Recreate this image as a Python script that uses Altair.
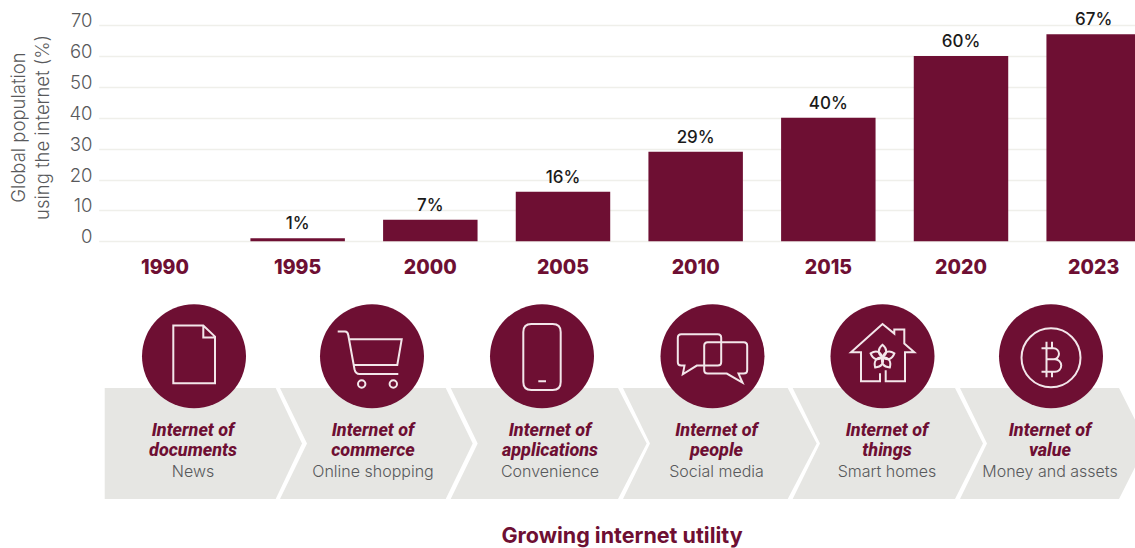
import altair as alt
import pandas as pd

# Chart values
YEARS = ["1990", "1995", "2000", "2005", "2010", "2015", "2020", "2023"]
SHARE = [None, 1, 7, 16, 29, 40, 60, 67]
STAGE_HEAD = ["documents", "commerce", "applications", "people", "things", "value"]
STAGE_SUB = ["News", "Online shopping", "Convenience", "Social media", "Smart homes", "Money and assets"]
Y_TICKS = [0, 10, 20, 30, 40, 50, 60, 70]

# Layout, in page pixels
PAD_L, PAD_T = 100, 25
PLOT_W, PLOT_H = 1035, 216.3
CIRCLE_X = [194, 372, 542, 712.5, 882.5, 1051]
CIRCLE_Y = 356.3
TEXT_X = [193, 373, 550, 716.5, 887, 1050]
CHEVRONS = [
    "M104.7,388 H275.7 L302,443.5 L275.7,499 H104.7 Z",
    "M280,388 H445.7 L472.7,443.5 L445.7,499 H280 L307,443.5 Z",
    "M450.7,388 H618 L646.7,443.5 L618,499 H450.7 L477.7,443.5 Z",
    "M623,388 H787.7 L816.7,443.5 L787.7,499 H623 L650,443.5 Z",
    "M792.7,388 H955 L983,443.5 L955,499 H792.7 L820,443.5 Z",
    "M960,388 H1119 L1147,443.5 L1119,499 H960 L987,443.5 Z",
]

# Line icons, drawn around each circle's centre
ICONS = [
    "M-20.7,-30.7 H9.3 L21,-19.7 V27 H-20.7 Z M9.3,-30.7 V-18.7 H21",
    "M-34.3,-24.7 H-27 Q-24.2,-24.7 -23.7,-21 L-17.5,13 Q-16.5,17.7 -12.5,17.7 H26.3 "
    "M-22,-17 H29.7 L25.3,8.7 H-18 "
    "M-14,27.7 a3.7,3.7 0 1 0 7.4,0 a3.7,3.7 0 1 0 -7.4,0 "
    "M17.6,27.7 a3.7,3.7 0 1 0 7.4,0 a3.7,3.7 0 1 0 -7.4,0",
    "M-10.7,-32.3 H10.7 Q18.7,-32.3 18.7,-24.3 V25.7 Q18.7,33.7 10.7,33.7 H-10.7 "
    "Q-18.7,33.7 -18.7,25.7 V-24.3 Q-18.7,-32.3 -10.7,-32.3 Z M-3.7,25 H4",
    "M-31.2,-22 H5.2 Q8.7,-22 8.7,-18.5 V5.8 Q8.7,9.3 5.2,9.3 H-15.7 L-29.7,18 L-28,9.3 H-31.2 "
    "Q-34.7,9.3 -34.7,5.8 V-18.5 Q-34.7,-22 -31.2,-22 Z "
    "M-4.8,-14 H31.2 Q34.7,-14 34.7,-10.5 V13.8 Q34.7,17.3 31.2,17.3 H26 L30,26.3 L14.3,17.3 H-4.8 "
    "Q-8.3,17.3 -8.3,13.8 V-10.5 Q-8.3,-14 -4.8,-14 Z",
    "M-2.5,17 V25 H-21.5 V-4 H-31.5 L0,-32.3 L11.8,-22.7 V-26.7 H21.8 V-12.7 L31.8,-4 H22.5 V25 H3.2 V14",
    "M-29.5,1.5 a29.5,29.5 0 1 0 59,0 a29.5,29.5 0 1 0 -59,0 "
    "M-9.5,-8 H2.5 A5.5,5.5 0 0 1 2.5,3 H-4.5 M-4.5,-14.5 V21 M-4.5,3 H4 A6.25,6.25 0 0 1 4,15.5 H-9.5 "
    "M1,-8 V-14.5 M1,15.5 V21",
]
PETAL = "M0,0 C-5,-3.5 -5,-8.5 0,-12.5 C5,-8.5 5,-3.5 0,0 Z"
PETAL_ANGLES = [0, 72, 144, 216, 288]

# Styles
WINE = "#6E0F33"
PANEL = "#E6E6E3"
GRID = "#EFEFEA"
INK = "#58595B"
LINE = "#F3E6EA"
FONT = "Inter"
HEAD_FONT = "Roboto"

df = pd.DataFrame({"year": YEARS, "share": SHARE})
df["label"] = [f"{v}%" if v is not None else "" for v in SHARE]
one = alt.Data(values=[{"row": 0}])


def px(x):
    return x - PAD_L


def py(y):
    return y - PAD_T


def shape(path, x, y, **style):
    """A custom path symbol; size 4 makes one path unit one pixel."""
    return alt.Chart(one).mark_point(shape=path, size=4, opacity=1, **style).encode(
        x=alt.value(px(x)), y=alt.value(py(y))
    )


def caption(text, x, y, **style):
    return alt.Chart(one).mark_text(align="center", baseline="middle", **style).encode(
        x=alt.value(px(x)), y=alt.value(py(y)), text=alt.value(text)
    )


x_scale = alt.Scale(domain=YEARS, range=[-1.35, 1060], paddingInner=0.288, paddingOuter=0.144)
y_scale = alt.Scale(domain=[0, 70], nice=False)

x_axis = alt.Axis(
    title=None, labelAngle=0, ticks=False, domain=False, labelPadding=17,
    labelFont=FONT, labelFontSize=19.5, labelFontWeight=800, labelColor=WINE,
)
y_axis = alt.Axis(
    values=Y_TICKS, grid=True, gridColor=GRID, gridWidth=1.5, ticks=False, domain=False,
    labelFont=FONT, labelFontSize=18.5, labelFontWeight=300, labelColor=INK, labelPadding=8,
    labelOverlap=False, labelOffset=-4.5, labelBound=False, labelFlush=False,
    title=["Global population", "using the internet (%)"],
    titleFont=FONT, titleFontSize=18.5, titleFontWeight=300, titleColor=INK,
    titleAngle=-90, titleX=-82, titleY=102, titleLineHeight=24,
    titleAlign="center", titleBaseline="middle",
)

bars = alt.Chart(df).mark_bar(color=WINE).encode(
    x=alt.X("year:N", scale=x_scale, sort=None, axis=x_axis),
    y=alt.Y("share:Q", scale=y_scale, axis=y_axis),
)

values = alt.Chart(df).transform_filter("datum.share != null").mark_text(
    baseline="alphabetic", dy=-9, font=FONT, fontSize=17, fontWeight=500, color="#1A1A1A"
).encode(
    x=alt.X("year:N", scale=x_scale, sort=None, axis=x_axis),
    y=alt.Y("share:Q", scale=y_scale, axis=y_axis),
    text="label:N",
)

layers = [bars, values]

layers += [shape(p, 0, 0, filled=True, fill=PANEL, strokeWidth=0) for p in CHEVRONS]

for cx in CIRCLE_X:
    layers.append(
        alt.Chart(one).mark_circle(size=10816, color=WINE, opacity=1).encode(
            x=alt.value(px(cx)), y=alt.value(py(CIRCLE_Y))
        )
    )

line_style = dict(filled=False, stroke=LINE, strokeWidth=2, fill="transparent")
for cx, icon in zip(CIRCLE_X, ICONS):
    layers.append(shape(icon, cx, CIRCLE_Y, **line_style))
for angle in PETAL_ANGLES:
    layers.append(shape(PETAL, CIRCLE_X[4], CIRCLE_Y + 1, angle=angle, **line_style))

for tx, head, sub in zip(TEXT_X, STAGE_HEAD, STAGE_SUB):
    layers.append(
        caption(
            ["Internet of", head], tx, 430.5, lineHeight=20.5,
            font=HEAD_FONT, fontSize=18, fontWeight=800, fontStyle="italic", color=WINE,
        )
    )
    layers.append(caption(sub, tx, 472, font=FONT, fontSize=16, fontWeight=300, color=INK))

layers.append(
    caption("Growing internet utility", 622, 536.5, font=FONT, fontSize=21.5, fontWeight=700, color=WINE)
)

chart = (
    alt.layer(*layers)
    .properties(
        width=PLOT_W,
        height=PLOT_H,
        autosize=alt.AutoSizeParams(type="none"),
        padding={"left": PAD_L, "top": PAD_T, "right": 0, "bottom": 548 - PAD_T - PLOT_H},
        background="white",
    )
    .configure_view(stroke=None)
)

chart.save("out.html", embed_options={"renderer": "svg", "actions": False})
